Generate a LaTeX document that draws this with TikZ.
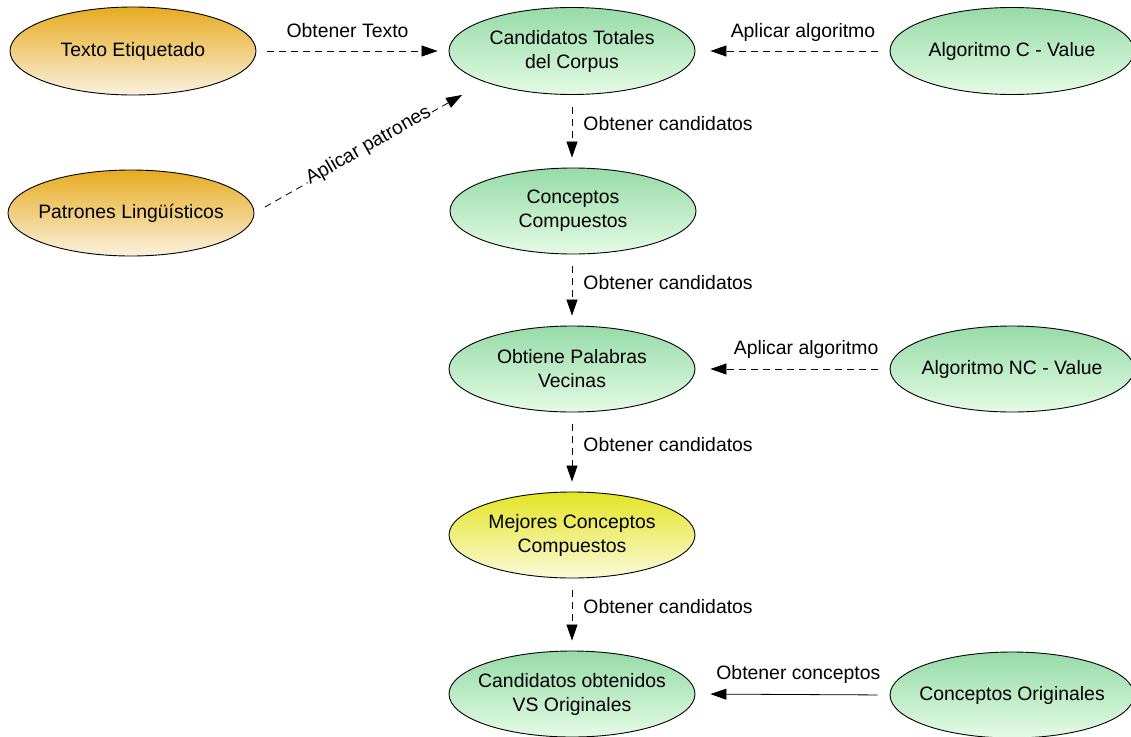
\documentclass[tikz,border=0pt]{standalone}
\usepackage{fontspec}
\setmainfont{Liberation Sans}
\usetikzlibrary{shapes.geometric,arrows.meta}

\definecolor{greentop}{RGB}{150,219,168}
\definecolor{greenbot}{RGB}{228,251,228}
\definecolor{orangetop}{RGB}{231,171,33}
\definecolor{orangebot}{RGB}{250,241,222}
\definecolor{yellowtop}{RGB}{228,228,36}
\definecolor{yellowbot}{RGB}{250,250,218}

\tikzset{
  concept/.style={ellipse, draw=black, line width=0.9pt,
    inner xsep=-60pt, inner ysep=-20pt,
    minimum width=246pt, minimum height=86pt, align=center,
    font=\fontsize{19.4pt}{24pt}\selectfont},
  greenbox/.style={concept, top color=greentop, bottom color=greenbot},
  orangebox/.style={concept, top color=orangetop, bottom color=orangebot},
  yellowbox/.style={concept, top color=yellowtop, bottom color=yellowbot},
  flow/.style={line width=0.8pt, -{Triangle[length=16pt,width=11pt]}},
  dflow/.style={flow, dash pattern=on 7pt off 5pt},
  lbl/.style={font=\fontsize{19.4pt}{24pt}\selectfont, inner sep=0pt}
}

\begin{document}
\begin{tikzpicture}[x=1pt,y=-1pt]
  \fill[white] (0,0) rectangle (1131,736);
  \useasboundingbox (0,0) rectangle (1131,736);

  % sources on the left
  \node[orangebox, minimum height=88pt] (te) at (133,51) {Texto Etiquetado};
  \node[orangebox] (pl) at (131,213) {Patrones Lingüísticos};

  % main column
  \node[greenbox, minimum height=87pt] (ct) at (572,51) {Candidatos Totales\\del Corpus};
  \node[greenbox] (cc) at (573,211) {Conceptos\\Compuestos};
  \node[greenbox] (pv) at (572,369) {Obtiene Palabras\\Vecinas};
  \node[yellowbox] (mc) at (572,535) {Mejores Conceptos\\Compuestos};
  \node[greenbox] (co) at (572,694) {Candidatos obtenidos\\VS Originales};

  % algorithms and references on the right
  \node[greenbox, minimum width=244pt, minimum height=87pt] (cv) at (1012,51) {Algoritmo C - Value};
  \node[greenbox, minimum width=244pt] (nc) at (1012,369) {Algoritmo NC - Value};
  \node[greenbox, minimum width=244pt] (or) at (1012,695) {Conceptos Originales};

  % horizontal connectors
  \draw[dflow, shorten <=11pt, shorten >=11pt] (te) -- (ct)
    node[lbl, pos=0.474, anchor=base, yshift=14pt] {Obtener Texto};
  \draw[dflow, shorten <=12pt, shorten >=15pt] (cv) -- (ct)
    node[lbl, pos=0.446, anchor=base, yshift=14pt] {Aplicar algoritmo};
  \draw[dflow, shorten <=12pt, shorten >=15pt] (nc) -- (pv)
    node[lbl, pos=0.43, anchor=base, yshift=15pt] {Aplicar algoritmo};
  \draw[flow, shorten <=12pt, shorten >=15pt] (or.west) -- (co.east)
    node[lbl, pos=0.47, anchor=base, yshift=15pt] {Obtener conceptos};

  % slanted connector
  \draw[dflow, shorten <=12pt, shorten >=26pt] (pl.east) -- (ct.south west)
    node[lbl, pos=0.5, sloped, anchor=center, yshift=2pt, fill=white, inner xsep=1pt] {Aplicar patrones};

  % vertical connectors
  \draw[dflow, shorten <=12pt, shorten >=10pt] (ct.south) -- (cc.north -| ct.south)
    node[lbl, pos=0.49, anchor=base west, xshift=11pt] {Obtener candidatos};
  \draw[dflow, shorten <=12pt, shorten >=10pt] (cc.south -| pv.north) -- (pv.north)
    node[lbl, pos=0.49, anchor=base west, xshift=11pt] {Obtener candidatos};
  \draw[dflow, shorten <=12pt, shorten >=10pt] (pv.south) -- (mc.north)
    node[lbl, pos=0.49, anchor=base west, xshift=11pt] {Obtener candidatos};
  \draw[dflow, shorten <=12pt, shorten >=10pt] (mc.south) -- (co.north)
    node[lbl, pos=0.49, anchor=base west, xshift=11pt] {Obtener candidatos};
\end{tikzpicture}
\end{document}
